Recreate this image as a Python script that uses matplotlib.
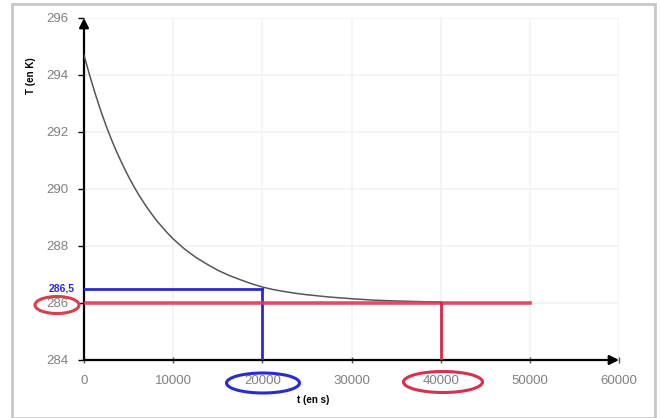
import matplotlib
matplotlib.use("Agg")
import matplotlib.pyplot as plt
from matplotlib.patches import Ellipse, Rectangle

plt.rcParams['font.family'] = ['Liberation Sans', 'DejaVu Sans']

# Data
t_values = [0, 625, 1250, 1875, 2500, 3125, 3750, 4375, 5000, 5625, 6250, 6875,
            7500, 8125, 8750, 9375, 10000, 11250, 12500, 13750, 15000, 16250,
            17500, 18750, 20000, 21250, 22500, 23750, 25000, 27500, 30000,
            32500, 35000, 37500, 40000]
T_values = [294.7, 294.0, 293.35, 292.75, 292.2, 291.7, 291.24, 290.82, 290.43,
            290.07, 289.74, 289.44, 289.16, 288.9, 288.67, 288.45, 288.25,
            287.9, 287.61, 287.37, 287.15, 286.97, 286.82, 286.68, 286.56,
            286.47, 286.4, 286.34, 286.29, 286.21, 286.15, 286.1, 286.07,
            286.05, 286.03]

x_ticks = [0, 10000, 20000, 30000, 40000, 50000, 60000]
y_ticks = [284, 286, 288, 290, 292, 294, 296]

t_blue, T_blue = 20000, 286.5
t_red, T_red = 40000, 286
t_red_end = 50000

W, H = 661, 418
fig = plt.figure(figsize=(W / 100, H / 100), dpi=100)
fig.patch.set_facecolor('white')

def fx(px):
    return px / W

def fy(py):
    return 1 - py / H

ax = fig.add_axes([fx(84), fy(360), fx(619) - fx(84), fy(18) - fy(360)])
ax.set_xlim(0, 60000)
ax.set_ylim(284, 296)
for s in ax.spines.values():
    s.set_visible(False)

ax.set_xticks(x_ticks)
ax.set_yticks(y_ticks)
ax.grid(True, color='#f2f2f2', linewidth=1.2)
ax.set_axisbelow(True)
ax.tick_params(axis='y', direction='out', length=4.5, width=1, color='black',
               labelcolor='#808080', labelsize=9.5, pad=7)
ax.tick_params(axis='x', direction='inout', length=4, width=1, color='#555555',
               labelcolor='#808080', labelsize=9.5, pad=9)

# axes with arrows
ax.annotate('', xy=(60000, 284), xytext=(0, 284),
            arrowprops=dict(arrowstyle='-|>', color='black', lw=1.6,
                            mutation_scale=14, shrinkA=0, shrinkB=0),
            annotation_clip=False)
ax.annotate('', xy=(0, 296), xytext=(0, 284),
            arrowprops=dict(arrowstyle='-|>', color='black', lw=1.6,
                            mutation_scale=14, shrinkA=0, shrinkB=0),
            annotation_clip=False)

# curve
ax.plot(t_values, T_values, color='#555555', lw=1.1, zorder=3)

# blue construction lines
blue = '#2a2ad0'
ax.plot([0, t_blue], [T_blue, T_blue], color=blue, lw=2, zorder=4)
ax.plot([t_blue, t_blue], [T_blue, 284], color=blue, lw=2, zorder=4)

# red construction lines
red = '#dc3c5a'
ax.plot([0, t_red_end], [T_red, T_red], color=red, lw=2.6, alpha=0.9, zorder=4)
ax.plot([t_red, t_red], [T_red, 284], color='#d8284a', lw=2, zorder=4)

# blue label 286,5
ax.text(-1000, T_blue, '286,5', color=blue, fontsize=7.5, fontweight='bold',
        ha='right', va='center')

# axis labels
fig.text(fx(31), fy(76), 'T (en K)', rotation=90, fontsize=7, fontweight='bold',
         ha='center', va='center', color='black')
fig.text(fx(313), fy(400), 't (en s)', fontsize=7, fontweight='bold',
         ha='center', va='center', color='black')

# ellipses (figure pixel coordinates)
def ell(cx, cy, w, h, color):
    e = Ellipse((fx(cx), fy(cy)), w / W, h / H, transform=fig.transFigure,
                fill=False, edgecolor=color, lw=2.2)
    fig.patches.append(e)

ell(57, 305, 44, 17, '#d84050')
ell(263, 383, 73, 20, '#2a2ad0')
ell(443, 382, 79, 21, '#d83050')

# outer border
fig.patches.append(Rectangle((fx(12), fy(418)), fx(655) - fx(12), fy(4) - fy(418),
                             transform=fig.transFigure, fill=False,
                             edgecolor='#c8c8c8', lw=2))

fig.savefig('out.png', dpi=100)
